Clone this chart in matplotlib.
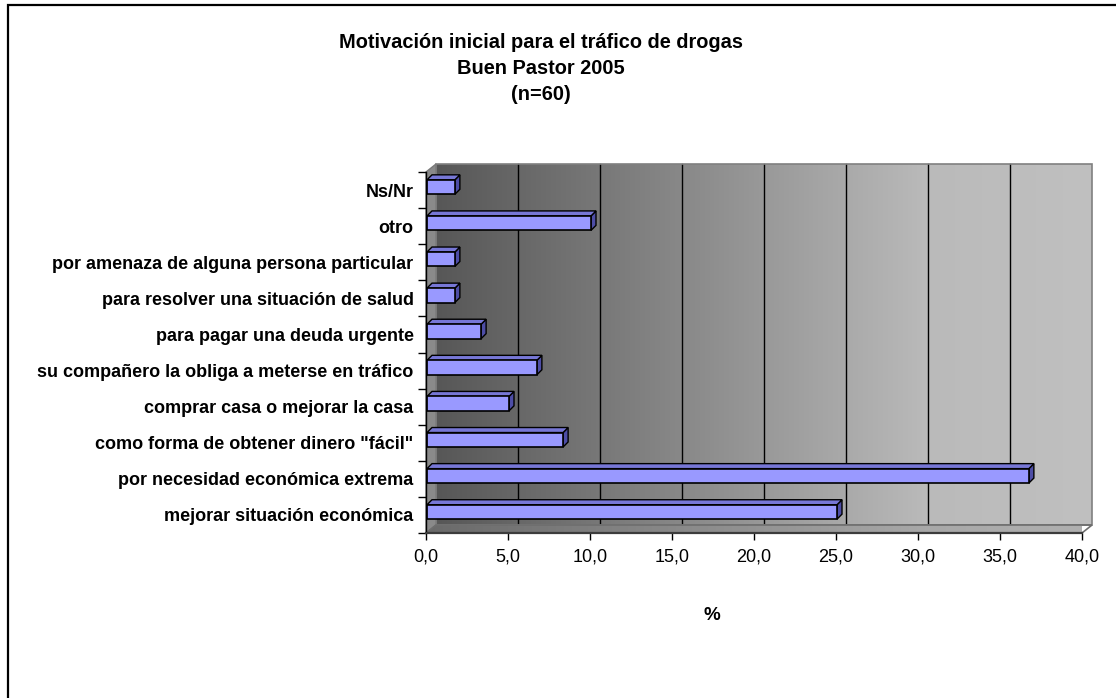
"""Motivación inicial para el tráfico de drogas - Excel-style 3D bar chart."""

import matplotlib

matplotlib.use("Agg")

import matplotlib.pyplot as plt
import numpy as np
from matplotlib.colors import LinearSegmentedColormap
from matplotlib.patches import Polygon, Rectangle
from matplotlib.transforms import IdentityTransform, ScaledTranslation

plt.rcParams["font.family"] = ["Liberation Sans", "DejaVu Sans"]

categories = [
    "mejorar situación económica",
    "por necesidad económica extrema",
    'como forma de obtener dinero "fácil"',
    "comprar casa o mejorar la casa",
    "su compañero la obliga a meterse en tráfico",
    "para pagar una deuda urgente",
    "para resolver una situación de salud",
    "por amenaza de alguna persona particular",
    "otro",
    "Ns/Nr",
]
percent = [25.0, 36.7, 8.3, 5.0, 6.7, 3.3, 1.7, 1.7, 10.0, 1.7]
x_ticks = [0, 5, 10, 15, 20, 25, 30, 35, 40]
x_tick_labels = [f"{t:.1f}".replace(".", ",") for t in x_ticks]
title_lines = [
    "Motivación inicial para el tráfico de drogas",
    "Buen Pastor 2005",
    "(n=60)",
]
x_label = "%"

W, H, DPI = 1116, 698, 100
WALL_DEPTH = (10, 8)
BAR_DEPTH = (5, 5)
BAR_SHIFT = (1, 3)
BAR_HEIGHT = 0.4

fig = plt.figure(figsize=(W / DPI, H / DPI), dpi=DPI)
fig.patch.set_facecolor("white")
ax = fig.add_axes([426 / W, (H - 533) / H, 656 / W, 361 / H])
ax.set_xlim(0, 40)
ax.set_ylim(-0.5, len(categories) - 0.5)
ax.set_autoscale_on(False)
ax.patch.set_visible(False)


def px_offset(dx, dy):
    return ScaledTranslation(dx / DPI, dy / DPI, fig.dpi_scale_trans)


def to_px(points):
    return ax.transData.transform(np.asarray(points, dtype=float))


y0, y1 = ax.get_ylim()
x0, x1 = ax.get_xlim()
depth = np.array(WALL_DEPTH, dtype=float)

# back wall with horizontal gradient
wall_cmap = LinearSegmentedColormap.from_list(
    "wall", [(0.0, "#575757"), (0.75, "#bababa"), (1.0, "#c0c0c0")]
)
gradient = np.linspace(0, 1, 256).reshape(1, -1)
wall_tr = ax.transData + px_offset(*WALL_DEPTH)
ax.imshow(
    gradient,
    extent=(x0, x1, y0, y1),
    transform=wall_tr,
    cmap=wall_cmap,
    aspect="auto",
    interpolation="bilinear",
    clip_on=False,
    zorder=0,
)
for t in x_ticks[1:-1]:
    ax.plot([t, t], [y0, y1], transform=wall_tr, color="black", lw=1, clip_on=False, zorder=1)
ax.add_patch(
    Rectangle((x0, y0), x1 - x0, y1 - y0, transform=wall_tr, fill=False,
              edgecolor="#808080", lw=1.2, clip_on=False, zorder=1)
)

# left side wall
front_bl, front_tl, front_br = to_px([(x0, y0), (x0, y1), (x1, y0)])
ax.add_patch(
    Polygon([front_bl, front_tl, front_tl + depth, front_bl + depth],
            transform=IdentityTransform(), facecolor="#8a8a8a",
            edgecolor="#7a7a7a", lw=1, clip_on=False, zorder=1)
)

# floor with gradient
floor = Polygon([front_bl, front_br, front_br + depth, front_bl + depth],
                transform=IdentityTransform(), facecolor="none",
                edgecolor="#6e6e6e", lw=1.2, clip_on=False, zorder=1.2)
ax.add_patch(floor)
floor_cmap = LinearSegmentedColormap.from_list(
    "floor", [(0.0, "#6a6a6a"), (0.75, "#a8a8a8"), (1.0, "#b0b0b0")]
)
floor_img = ax.imshow(
    gradient,
    extent=(front_bl[0], front_br[0] + depth[0], front_bl[1], front_bl[1] + depth[1]),
    transform=IdentityTransform(),
    cmap=floor_cmap,
    aspect="auto",
    interpolation="bilinear",
    zorder=1.1,
)
floor_img.set_clip_path(floor)

# bars: right face, top face, then front face
bar_tr = ax.transData + px_offset(*BAR_SHIFT)
bar_depth = np.array(BAR_DEPTH, dtype=float)
positions = np.arange(len(categories))
for pos, value in zip(positions, percent):
    lo, hi = pos - BAR_HEIGHT / 2, pos + BAR_HEIGHT / 2
    tl, tr_, br = bar_tr.transform([(0, hi), (value, hi), (value, lo)])
    ax.add_patch(Polygon([br, tr_, tr_ + bar_depth, br + bar_depth],
                         transform=IdentityTransform(), facecolor="#4d4da6",
                         edgecolor="black", lw=1, clip_on=False, zorder=3))
    ax.add_patch(Polygon([tl, tr_, tr_ + bar_depth, tl + bar_depth],
                         transform=IdentityTransform(), facecolor="#7777d6",
                         edgecolor="black", lw=1, clip_on=False, zorder=3))
ax.barh(positions, percent, height=BAR_HEIGHT, color="#9999ff",
        edgecolor="black", lw=1.2, transform=bar_tr, zorder=4)

# axes
for side in ("top", "right"):
    ax.spines[side].set_visible(False)
ax.spines["left"].set_color("black")
ax.spines["left"].set_linewidth(1)
ax.spines["bottom"].set_color("#3c3c3c")
ax.spines["bottom"].set_linewidth(1.6)
for spine in ax.spines.values():
    spine.set_zorder(5)

ax.set_xticks(x_ticks)
ax.set_xticklabels(x_tick_labels, fontsize=13)
ax.tick_params(axis="x", direction="out", length=5, width=1, color="black", pad=6)

ax.set_yticks(positions)
ax.set_yticklabels(categories, fontsize=13, fontweight="bold")
ax.set_yticks(np.arange(y0, y1 + 0.01, 1), minor=True)
ax.tick_params(axis="y", which="major", length=0, pad=9)
ax.tick_params(axis="y", which="minor", length=6, width=1, color="black")

# texts
for line, y_px in zip(title_lines, [42, 69, 95]):
    fig.text(541 / W, 1 - y_px / H, line, ha="center", va="center",
             fontsize=14.4, fontweight="bold")
fig.text(712 / W, 1 - 615 / H, x_label, ha="center", va="center",
         fontsize=13.5, fontweight="bold")

# outer chart frame (cropped at right and bottom)
fig.patches.append(
    Rectangle((8 / W, -0.05), 1.2, 1.05 - 5 / H, transform=fig.transFigure,
              fill=False, edgecolor="black", lw=1.6)
)

fig.savefig("out.png", dpi=DPI)
